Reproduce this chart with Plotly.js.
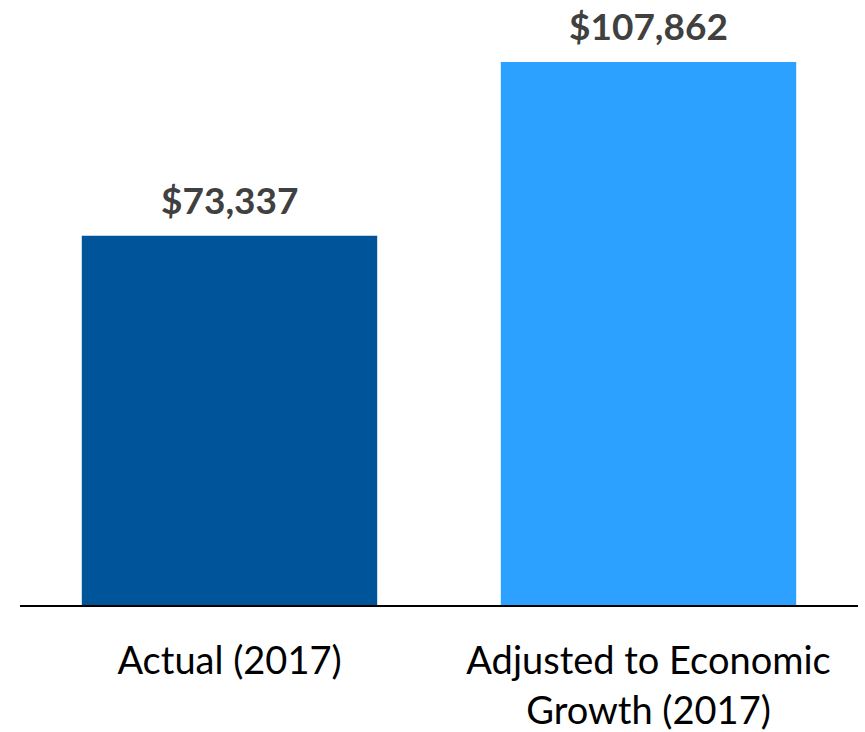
<!DOCTYPE html>
<html>
<head>
<meta charset="utf-8">
<script src="https://cdn.plot.ly/plotly-3.0.1.min.js"></script>
<style>html,body{margin:0;padding:0;background:#fff;}#chart{width:865px;height:732px;}</style>
</head>
<body>
<div id="chart"></div>
<script>
const categories = ["Actual (2017)", "Adjusted to Economic<br>Growth (2017)"];
const values = [73337, 107862];
const valueLabels = ["$73,337", "$107,862"];
const barColors = ["#00559A", "#2DA1FF"];

const FONT = "Lato, 'Open Sans', sans-serif";

const trace = {
  type: "bar",
  x: categories,
  y: values,
  marker: {color: barColors},
  width: 0.705,
  hoverinfo: "none"
};

const annotations = categories.map((c, i) => ({
  x: c, y: values[i], xref: "x", yref: "y",
  text: "<b>" + valueLabels[i] + "</b>",
  showarrow: false, yanchor: "bottom", yshift: 12,
  font: {family: FONT, size: 37, color: "#404040"}
}));

const layout = {
  width: 865, height: 732,
  margin: {l: 20, r: 7, t: 20, b: 127, pad: 0},
  paper_bgcolor: "#ffffff", plot_bgcolor: "#ffffff",
  showlegend: false,
  xaxis: {
    type: "category",
    range: [-0.5, 1.5],
    showline: true, linecolor: "#000000", linewidth: 1.5,
    ticks: "", showgrid: false, zeroline: false,
    tickfont: {family: FONT, size: 38, color: "#000000"},
    ticklabelstandoff: 22
  },
  yaxis: {
    range: [0, 116200],
    showline: false, showgrid: false, zeroline: false,
    showticklabels: false, ticks: ""
  },
  annotations: annotations
};

Plotly.newPlot("chart", [trace], layout, {displayModeBar: false, staticPlot: true});
</script>
</body>
</html>
